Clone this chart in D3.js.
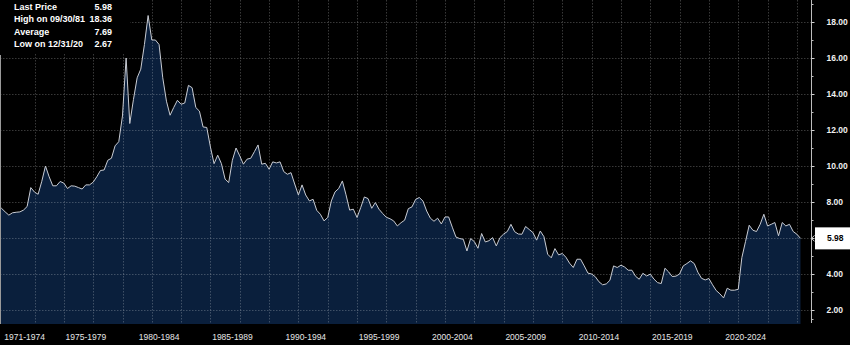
<!DOCTYPE html>
<html>
<head>
<meta charset="utf-8">
<script src="https://cdn.jsdelivr.net/npm/d3@7"></script>
<style>
  html, body { margin: 0; padding: 0; background: #000; }
  svg { display: block; }
</style>
</head>
<body>
<div class="chart"></div>
<script>
// quarterly 30y mortgage rate, end of quarter, first value = Q2 1971
var firstQuarter = [1971, 2];
var rates = [
  7.70, 7.65, 7.45,              // 1971 Q2-Q4
  7.27, 7.40, 7.43, 7.45,        // 1972
  7.55, 7.75, 8.80, 8.55,        // 1973
  8.43, 9.15, 10.00, 9.40,       // 1974
  8.90, 8.90, 9.14, 9.05,        // 1975
  8.75, 8.90, 8.88, 8.80,        // 1976
  8.72, 8.95, 8.95, 9.10,        // 1977
  9.40, 9.75, 9.78, 10.32,       // 1978
  10.43, 11.12, 11.35, 12.78,    // 1979
  16.00, 12.36, 13.70, 14.90,    // 1980
  15.38, 16.75, 18.36, 17.00,    // 1981
  17.00, 16.75, 14.90, 13.60,    // 1982
  12.82, 13.25, 13.65, 13.43,    // 1983
  13.50, 14.48, 14.35, 13.25,    // 1984
  13.05, 12.17, 12.14, 11.05,    // 1985
  10.13, 10.60, 10.13, 9.27,     // 1986
  9.08, 10.32, 11.00, 10.56,     // 1987
  10.10, 10.38, 10.43, 10.80,    // 1988
  11.17, 10.10, 10.15, 9.82,     // 1989
  10.23, 10.17, 10.23, 9.69,     // 1990
  9.54, 9.63, 9.00, 8.39,        // 1991
  8.95, 8.39, 8.06, 8.15,        // 1992
  7.54, 7.32, 6.95, 7.14,        // 1993
  8.06, 8.56, 8.75, 9.17,        // 1994
  8.40, 7.55, 7.60, 7.14,        // 1995
  7.69, 8.28, 8.19, 7.65,        // 1996
  7.97, 7.60, 7.36, 7.15,        // 1997
  7.07, 6.95, 6.67, 6.85,        // 1998
  6.99, 7.63, 7.73, 8.15,        // 1999
  8.25, 8.05, 7.50, 7.10,        // 2000
  6.93, 7.10, 6.78, 7.17,        // 2001
  7.17, 6.60, 6.05, 5.97,        // 2002
  5.93, 5.28, 5.97, 5.80,        // 2003
  5.43, 6.25, 5.78, 5.85,        // 2004
  6.02, 5.56, 6.02, 6.22,        // 2005
  6.36, 6.76, 6.35, 6.22,        // 2006
  6.21, 6.64, 6.47, 6.30,        // 2007
  5.88, 6.39, 6.07, 5.10,        // 2008
  4.90, 5.41, 5.06, 5.14,        // 2009
  4.93, 4.60, 4.36, 4.82,        // 2010
  4.82, 4.45, 4.05, 4.00,        // 2011
  3.85, 3.57, 3.40, 3.45,        // 2012
  3.65, 4.45, 4.36, 4.49,        // 2013
  4.39, 4.21, 4.21, 3.87,        // 2014
  3.71, 4.04, 3.89, 3.99,        // 2015
  3.72, 3.52, 3.47, 4.32,        // 2016
  4.12, 3.86, 3.88, 4.00,        // 2017
  4.45, 4.58, 4.73, 4.58,        // 2018
  4.10, 3.76, 3.67, 3.75,        // 2019
  3.40, 3.08, 2.90, 2.67,        // 2020
  3.21, 3.10, 3.10, 3.15,        // 2021
  4.91, 5.80, 6.71, 6.43,        // 2022
  6.36, 6.76, 7.32, 6.67,        // 2023
  6.76, 6.86, 6.12, 6.86,        // 2024
  6.67, 6.76, 6.36, 6.21,        // 2025
  5.98                           // 2026 Q1
];

var periodLabels = ["1971-1974", "1975-1979", "1980-1984", "1985-1989", "1990-1994",
  "1995-1999", "2000-2004", "2005-2009", "2010-2014", "2015-2019", "2020-2024"];
var yTicks = [2, 4, 6, 8, 10, 12, 14, 16, 18];
var yMinorTicks = [1.5, 3, 5, 7, 9, 11, 13, 15, 17, 19];

var statNames = ["Last Price", "High on 09/30/81", "Average", "Low on 12/31/20"];
var statValues = ["5.98", "18.36", "7.69", "2.67"];

var W = 850, H = 345;
var plotRight = 811.5, plotBottom = 324;
var font = "'Liberation Sans Narrow', 'Arial Narrow', 'Liberation Sans', Arial, sans-serif";

// end of quarter date
var data = rates.map(function(v, i) {
  var q = firstQuarter[1] - 1 + i;
  var yr = firstQuarter[0] + Math.floor(q / 4);
  var m = (q % 4) * 3 + 3;
  return { date: new Date(yr, m, 0), value: v };
});
var lastPoint = data[data.length - 1];

var x = d3.scaleTime()
  .domain([new Date(1971, 7, 24), lastPoint.date])
  .range([0, 800.5]);

var y = d3.scaleLinear()
  .domain([2, 18])
  .range([310, 22]);

var svg = d3.select(".chart").append("svg")
  .attr("width", W)
  .attr("height", H)
  .style("background", "#000");

svg.append("clipPath").attr("id", "plotclip")
  .append("rect").attr("x", 0).attr("y", 0).attr("width", plotRight).attr("height", plotBottom);

var area = d3.area()
  .x(function(d) { return x(d.date); })
  .y0(plotBottom)
  .y1(function(d) { return y(d.value); });

var line = d3.line()
  .x(function(d) { return x(d.date); })
  .y(function(d) { return y(d.value); });

var plot = svg.append("g").attr("clip-path", "url(#plotclip)");

plot.append("path")
  .datum(data)
  .attr("d", area)
  .attr("fill", "#0a1f3c");

// grid
var gridYears = d3.range(1974, 2027, 2).map(function(yr) { return new Date(yr, 0, 1); });
plot.selectAll(".vgrid")
  .data(gridYears)
  .enter().append("line")
  .attr("class", "vgrid")
  .attr("x1", function(d) { return Math.round(x(d)) + 0.5; })
  .attr("x2", function(d) { return Math.round(x(d)) + 0.5; })
  .attr("y1", 0)
  .attr("y2", plotBottom)
  .attr("stroke", "rgba(255,255,255,0.22)")
  .attr("stroke-dasharray", "1.5,1.5");

plot.selectAll(".hgrid")
  .data(yTicks)
  .enter().append("line")
  .attr("class", "hgrid")
  .attr("x1", 0)
  .attr("x2", plotRight)
  .attr("y1", function(d) { return Math.round(y(d)) + 0.5; })
  .attr("y2", function(d) { return Math.round(y(d)) + 0.5; })
  .attr("stroke", "rgba(255,255,255,0.22)")
  .attr("stroke-dasharray", "1.5,1.5");

plot.append("path")
  .datum(data)
  .attr("d", line)
  .attr("fill", "none")
  .attr("stroke", "#c9ccd3")
  .attr("stroke-width", 1);

// stats box top left
svg.append("rect")
  .attr("x", 0).attr("y", 0)
  .attr("width", 130).attr("height", 54)
  .attr("fill", "#000");

var stats = svg.selectAll(".stat")
  .data(statNames)
  .enter().append("g")
  .attr("class", "stat")
  .attr("transform", function(d, i) { return "translate(0," + (7 + i * 12.3) + ")"; });

stats.append("text")
  .attr("x", 14)
  .attr("dy", "0.35em")
  .attr("fill", "#fff")
  .attr("font-family", font)
  .attr("font-weight", "bold")
  .attr("font-size", 9)
  .text(function(d) { return d; });

stats.append("text")
  .attr("x", 112)
  .attr("dy", "0.35em")
  .attr("text-anchor", "end")
  .attr("fill", "#fff")
  .attr("font-family", font)
  .attr("font-weight", "bold")
  .attr("font-size", 9)
  .text(function(d, i) { return statValues[i]; });

// left border
svg.append("line")
  .attr("x1", 0.5).attr("x2", 0.5)
  .attr("y1", 55).attr("y2", plotBottom)
  .attr("stroke", "#9a9a9a");

// right axis
svg.append("line")
  .attr("x1", plotRight).attr("x2", plotRight)
  .attr("y1", 0).attr("y2", plotBottom - 1)
  .attr("stroke", "#bdbdbd");

svg.selectAll(".minor")
  .data(yMinorTicks)
  .enter().append("line")
  .attr("class", "minor")
  .attr("x1", plotRight).attr("x2", plotRight + 2)
  .attr("y1", function(d) { return Math.round(y(d)) + 0.5; })
  .attr("y2", function(d) { return Math.round(y(d)) + 0.5; })
  .attr("stroke", "#bdbdbd");

var yAxis = d3.axisRight(y)
  .tickValues(yTicks)
  .tickSize(3)
  .tickPadding(12)
  .tickFormat(d3.format(".2f"));

var yAxisG = svg.append("g")
  .attr("transform", "translate(" + plotRight + ",0)")
  .call(yAxis);
yAxisG.select(".domain").remove();
yAxisG.selectAll(".tick line").attr("stroke", "#d0d0d0");
yAxisG.selectAll(".tick text")
  .attr("fill", "#f0f0f0")
  .attr("font-family", font)
  .attr("font-weight", "bold")
  .attr("font-size", 8.5);

// last price marker
var yLast = y(lastPoint.value);
svg.append("path")
  .attr("d", "M" + (plotRight + 3) + "," + (yLast - 3) + "L" + plotRight + "," + yLast + "L" + (plotRight + 3) + "," + (yLast + 3))
  .attr("fill", "none")
  .attr("stroke", "#d0d0d0");

svg.append("rect")
  .attr("x", 815).attr("y", yLast - 11)
  .attr("width", 35).attr("height", 22)
  .attr("fill", "#fff");

svg.append("text")
  .attr("x", 827)
  .attr("y", yLast)
  .attr("dy", "0.35em")
  .attr("fill", "#000")
  .attr("font-family", font)
  .attr("font-weight", "bold")
  .attr("font-size", 8.5)
  .text(d3.format(".2f")(lastPoint.value));

// period labels along the bottom
svg.selectAll(".period")
  .data(periodLabels)
  .enter().append("text")
  .attr("class", "period")
  .attr("x", function(d) {
    var a = Math.max(0, x(new Date(+d.slice(0, 4), 0, 1)));
    var b = x(new Date(+d.slice(5) + 1, 0, 1));
    return (a + b) / 2;
  })
  .attr("y", 337)
  .attr("dy", "0.35em")
  .attr("text-anchor", "middle")
  .attr("fill", "#e6e6e6")
  .attr("font-family", font)
  .attr("font-size", 8.5)
  .text(function(d) { return d; });
</script>
</body>
</html>
